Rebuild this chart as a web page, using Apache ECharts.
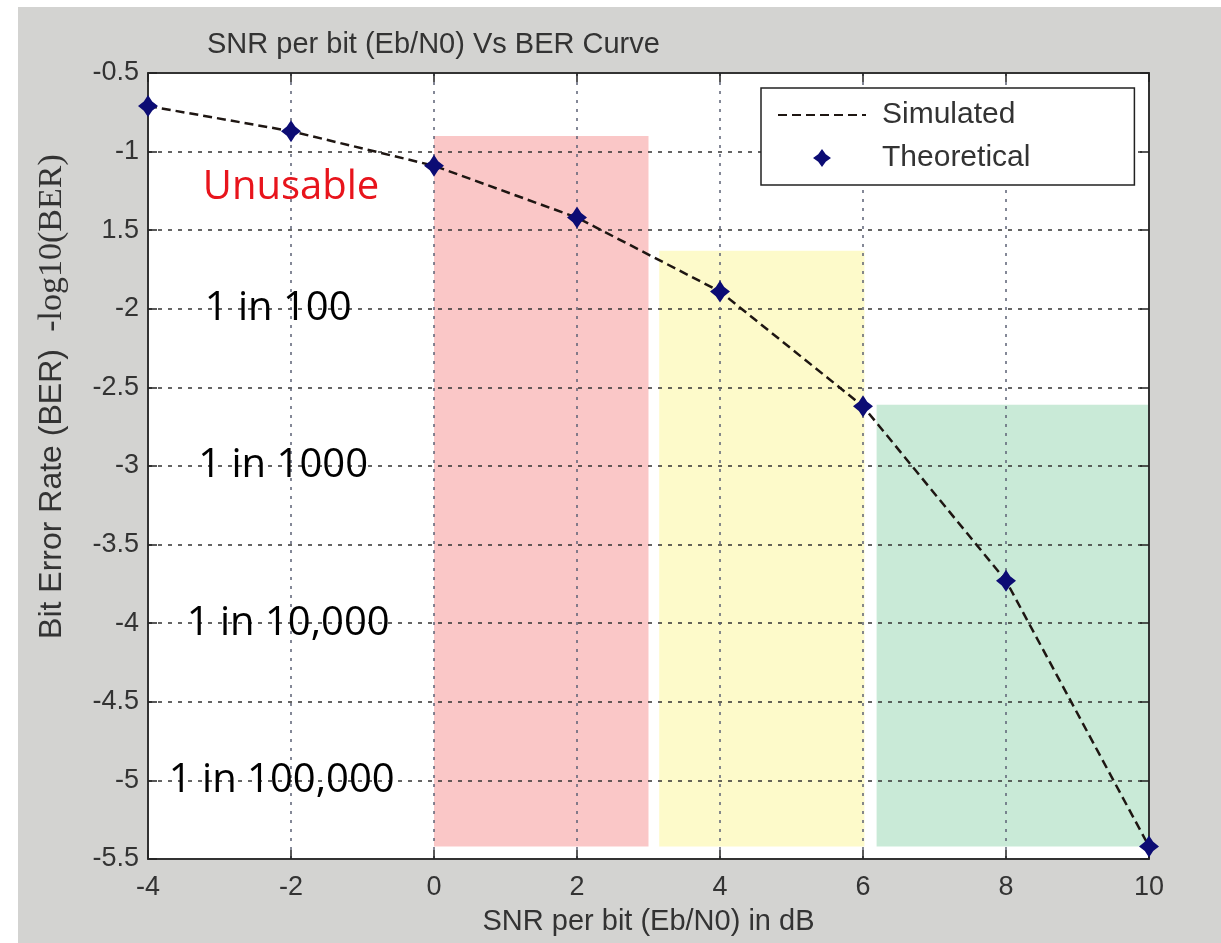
<!DOCTYPE html>
<html>
<head>
<meta charset="utf-8">
<script src="https://cdn.jsdelivr.net/npm/echarts@6/dist/echarts.min.js"></script>
<style>
html,body{margin:0;padding:0;background:#fff;width:1221px;height:943px;overflow:hidden;}
#bg{position:absolute;left:18px;top:7px;width:1203px;height:936px;background:#d3d3d1;}
#chart{position:absolute;left:0;top:0;width:1221px;height:943px;}
</style>
</head>
<body>
<div id="bg"></div>
<div id="chart"></div>
<script>
// ---- data ----
const xValues = [-4, -2, 0, 2, 4, 6, 8, 10];
const simulated = [-0.71, -0.87, -1.09, -1.42, -1.89, -2.62, -3.73, -5.42];
const theoretical = [-0.71, -0.87, -1.09, -1.42, -1.89, -2.62, -3.73, -5.42];
const yTickLabels = ['-5.5', '-5', '-4.5', '-4', '-3.5', '-3', '-2.5', '-2', '1.5', '-1', '-0.5'];
const xTickLabels = ['-4', '-2', '0', '2', '4', '6', '8', '10'];

const zoneX0 = [0, 3.15, 6.19];
const zoneX1 = [3.0, 6.02, 10];
const zoneTop = [-0.9, -1.63, -2.61];
const zoneBottom = [-5.42, -5.42, -5.42];
const zoneColors = ['rgba(240,70,70,0.30)', 'rgba(250,240,90,0.32)', 'rgba(60,180,110,0.28)'];

const annoText = ['Unusable', '1 in 100', '1 in 1000', '1 in 10,000', '1 in 100,000'];
const annoX = [-2.0, -2.18, -2.11, -2.04, -2.13];
const annoY = [-1.23, -2, -3, -4, -5];
const annoColors = ['#e8141c', '#000', '#000', '#000', '#000'];

const F = 'Liberation Sans, Arial, sans-serif';
const markerPath = 'path://M0,-10 L4.2,-4.2 L10,0 L4.2,4.2 L0,10 L-4.2,4.2 L-10,0 L-4.2,-4.2 Z';

const chart = echarts.init(document.getElementById('chart'), null, {renderer: 'canvas'});

const option = {
  backgroundColor: 'transparent',
  animation: false,
  title: {
    text: 'SNR per bit (Eb/N0) Vs BER Curve',
    left: 202, top: 25,
    textStyle: {fontSize: 29, fontWeight: 'normal', color: '#333', fontFamily: F}
  },
  legend: {
    data: [
      {name: 'Simulated', itemStyle: {opacity: 0}},
      {name: 'Theoretical'}
    ],
    orient: 'vertical',
    left: 761, top: 88,
    backgroundColor: '#fff',
    borderColor: '#222', borderWidth: 1.5, borderRadius: 0,
    padding: [12, 104, 12, 16],
    itemWidth: 88, itemHeight: 18, itemGap: 13,
    textStyle: {fontSize: 30, color: '#333', fontFamily: F, padding: [0, 0, 0, 11]}
  },
  grid: {left: 148, right: 72, top: 73, bottom: 84, show: true, backgroundColor: '#fff', borderWidth: 0,
    containLabel: false, outerBoundsMode: 'none'},
  xAxis: [{
    type: 'value', min: -4, max: 10, interval: 2, z: 2,
    name: 'SNR per bit (Eb/N0) in dB', nameLocation: 'middle', nameGap: 48,
    nameTextStyle: {fontSize: 29, color: '#333', fontFamily: F},
    axisLine: {show: true, onZero: false, lineStyle: {color: '#333', width: 2}},
    axisTick: {show: true, inside: true, length: 9, lineStyle: {color: '#222', width: 1.5}},
    axisLabel: {fontSize: 27, color: '#333', fontFamily: F, margin: 15,
      formatter: (v, i) => xTickLabels[i]},
    splitLine: {show: true, lineStyle: {color: '#5c6275', width: 1.5, type: [3, 6]}}
  }, {
    type: 'value', min: -4, max: 10, interval: 2, position: 'top', z: 2,
    axisLine: {show: true, onZero: false, lineStyle: {color: '#333', width: 2}},
    axisTick: {show: true, inside: true, length: 9, lineStyle: {color: '#222', width: 1.5}},
    axisLabel: {show: false}, splitLine: {show: false}
  }],
  yAxis: [{
    type: 'value', min: -5.5, max: -0.5, interval: 0.5, z: 2,
    axisLine: {show: true, onZero: false, lineStyle: {color: '#333', width: 2}},
    axisTick: {show: true, inside: true, length: 9, lineStyle: {color: '#222', width: 1.5}},
    axisLabel: {fontSize: 27, color: '#333', fontFamily: F, margin: 9,
      formatter: (v, i) => yTickLabels[i]},
    splitLine: {show: true, lineStyle: {color: '#333', width: 1.5, type: [4, 6]}}
  }, {
    type: 'value', min: -5.5, max: -0.5, interval: 0.5, position: 'right', z: 2,
    axisLine: {show: true, onZero: false, lineStyle: {color: '#333', width: 2}},
    axisTick: {show: true, inside: true, length: 9, lineStyle: {color: '#222', width: 1.5}},
    axisLabel: {show: false}, splitLine: {show: false}
  }],
  graphic: [
    {type: 'text', x: 52, y: 494, rotation: Math.PI / 2, z: 10,
      style: {text: 'Bit Error Rate (BER)', fontSize: 32, fontFamily: F, fill: '#333',
        textAlign: 'center', textVerticalAlign: 'middle', align: 'center', verticalAlign: 'middle'}},
    {type: 'text', x: 52, y: 243, rotation: Math.PI / 2, z: 10,
      style: {text: '-log10(BER)', fontSize: 34, fontFamily: 'Liberation Serif, serif', fill: '#333',
        textAlign: 'center', textVerticalAlign: 'middle', align: 'center', verticalAlign: 'middle'}}
  ],
  series: [
    {
      name: 'zones', type: 'line', data: [], z: 1, silent: true,
      markArea: {
        silent: true,
        data: zoneX0.map((x0, i) => [
          {xAxis: x0, yAxis: zoneTop[i], itemStyle: {color: zoneColors[i]}},
          {xAxis: zoneX1[i], yAxis: zoneBottom[i]}
        ])
      }
    },
    {
      name: 'Simulated', type: 'line', z: 3,
      data: xValues.map((x, i) => [x, simulated[i]]),
      symbol: 'none',
      lineStyle: {color: '#1e1612', width: 2.5, type: [9, 5]},
      itemStyle: {color: '#1e1612'}
    },
    {
      name: 'Theoretical', type: 'scatter', z: 4,
      data: xValues.map((x, i) => [x, theoretical[i]]),
      symbol: markerPath, symbolSize: [20, 22],
      itemStyle: {color: '#0c0c74', opacity: 1}
    },
    {
      name: 'annotations', type: 'scatter', z: 5, silent: true,
      data: annoX.map((x, i) => ({value: [x, annoY[i]], label: {color: annoColors[i]}})),
      symbolSize: 1, itemStyle: {color: 'rgba(0,0,0,0)', opacity: 1},
      label: {show: true, position: 'inside', fontSize: 40, fontFamily: 'Open Sans, sans-serif',
        formatter: p => annoText[p.dataIndex]}
    }
  ]
};
chart.setOption(option);
</script>
</body>
</html>
